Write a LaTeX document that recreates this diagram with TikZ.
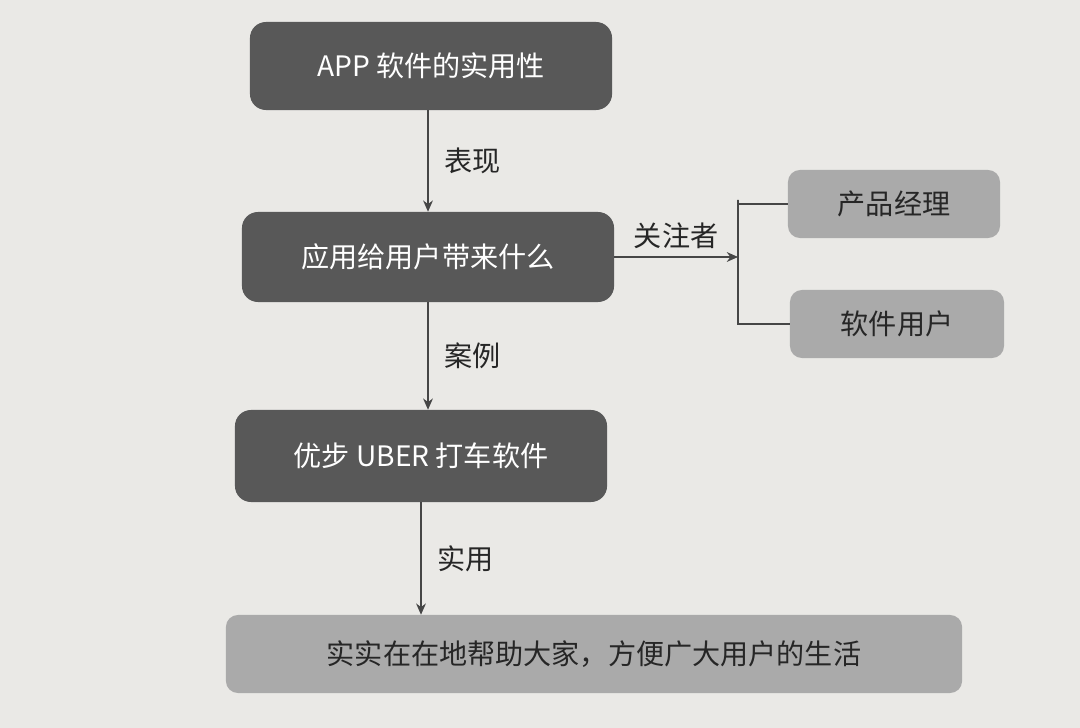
\documentclass[tikz,border=0pt]{standalone}
\usepackage{fontspec}
\setmainfont{Noto Sans CJK SC}
\usetikzlibrary{arrows.meta, positioning}
\definecolor{paper}{RGB}{234, 233, 230}
\definecolor{darkbox}{RGB}{88, 88, 88}
\definecolor{lightbox}{RGB}{170, 170, 170}
\definecolor{linegray}{RGB}{70, 70, 70}
\tikzset{
  darkstep/.style={fill=darkbox, text=white, rounded corners=0.4cm, font=\fontsize{20}{24}\selectfont},
  lightstep/.style={fill=lightbox, text=black!85, rounded corners=0.3cm, font=\fontsize{20}{24}\selectfont},
  flow/.style={-{Stealth[length=8pt, width=7pt]}, linegray, thick},
  tag/.style={text=black!85, font=\fontsize{20}{24}\selectfont}
}
\begin{document}
\begin{tikzpicture}[x=0.025cm, y=-0.025cm]
        % 背景
        \fill[paper] (0,0) rectangle (1080,728);
        \useasboundingbox (0,0) rectangle (1080,728);

        % 主流程
        \node[darkstep, minimum width=9.05cm, minimum height=2.2cm] (app) at (431,66) {APP 软件的实用性};
        \node[darkstep, minimum width=9.3cm, minimum height=2.25cm] (give) at (428,257) {应用给用户带来什么};
        \node[darkstep, minimum width=9.3cm, minimum height=2.3cm] (uber) at (421,456) {优步 UBER 打车软件};
        \node[lightstep, minimum width=18.4cm, minimum height=1.95cm] (life) at (594,654) {实实在在地帮助大家，方便广大用户的生活};

        % 关注者
        \node[lightstep, minimum width=5.3cm, minimum height=1.7cm] (pm) at (894,204) {产品经理};
        \node[lightstep, minimum width=5.35cm, minimum height=1.7cm] (user) at (897,324) {软件用户};

        % 箭头
        \draw[flow] (app.south -| 428,0) -- (give.north -| 428,0) node[tag, midway, right=8pt] {表现};
        \draw[flow] (give.south -| 428,0) -- (uber.north -| 428,0) node[tag, midway, right=8pt] {案例};
        \draw[flow] (uber.south -| 421,0) -- (life.north -| 421,0) node[tag, midway, right=8pt] {实用};

        % 分支
        \coordinate (fork) at (738,257);
        \draw[flow] (give.east) -- (fork) node[tag, midway, above=2pt] {关注者};
        \draw[linegray, thick] (pm.west) -| (738,200) -- (738,320) |- (user.west);
    \end{tikzpicture}
\end{document}
